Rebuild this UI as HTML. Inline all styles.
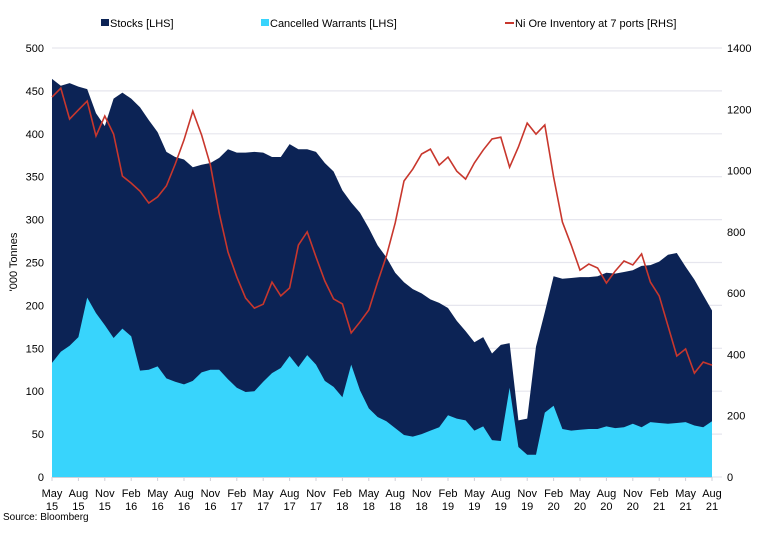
<!DOCTYPE html>
<html><head><meta charset="utf-8"><style>
body{margin:0;background:#fff;font-family:"Liberation Sans",Arial,sans-serif;}
svg text{font-family:"Liberation Sans",Arial,sans-serif;font-size:11px;fill:#000;}
</style></head><body>
<svg id="chart" width="770" height="531" xmlns="http://www.w3.org/2000/svg">
<g id="grid"></g>
<g id="areas"></g>
<g id="lines"></g>
<g id="axes"></g>
<g>
  <rect x="101" y="19" width="8" height="7" fill="#0c2355"/>
  <text x="110" y="27">Stocks [LHS]</text>
  <rect x="261" y="19" width="8" height="7" fill="#38d4fc"/>
  <text x="270" y="27">Cancelled Warrants [LHS]</text>
  <line x1="505" y1="23" x2="514" y2="23" stroke="#c8372d" stroke-width="2"/>
  <text x="515" y="27">Ni Ore Inventory at 7 ports [RHS]</text>
</g>
<text transform="translate(17,262) rotate(-90)" text-anchor="middle">'000 Tonnes</text>
<text x="3" y="520" style="font-size:10px">Source: Bloomberg</text>
</svg>
<script>
const stocks=[464,456,459,455,452,424,409,441,448,441,431,416,402,379,373,370,361,364,366,372,382,378,378,379,378,373,373,388,382,382,379,366,356,334,320,308,290,270,256,238,227,219,214,207,203,197,182,170,157,163,144,154,156,66,68,152,192,234,231,232,233,233,234,238,237,239,241,246,247,251,259,261,245,230,212,194];
const warrants=[133,146,153,163,209,191,177,162,173,164,124,125,129,115,111,108,112,122,125,125,114,104,99,100,111,121,127,141,128,142,131,112,105,93,131,101,80,70,65,57,49,47,50,54,58,72,68,66,54,59,43,42,104,35,26,26,75,83,56,54,55,56,56,59,57,58,62,58,64,63,62,63,64,60,58,65];
const niOre=[1240,1269,1168,1198,1227,1113,1178,1119,982,959,933,894,914,950,1021,1100,1194,1116,1018,861,734,653,584,551,564,636,591,617,757,800,718,640,581,565,470,506,545,636,721,829,966,1005,1054,1070,1018,1044,998,972,1025,1067,1103,1109,1011,1077,1155,1119,1149,979,832,757,675,695,682,633,672,705,692,728,636,591,493,395,418,339,375,365];
const xLabels=[["May","15"],["Aug","15"],["Nov","15"],["Feb","16"],["May","16"],["Aug","16"],["Nov","16"],["Feb","17"],["May","17"],["Aug","17"],["Nov","17"],["Feb","18"],["May","18"],["Aug","18"],["Nov","18"],["Feb","19"],["May","19"],["Aug","19"],["Nov","19"],["Feb","20"],["May","20"],["Aug","20"],["Nov","20"],["Feb","21"],["May","21"],["Aug","21"]];
const leftTicks=[0,50,100,150,200,250,300,350,400,450,500];
const rightTicks=[0,200,400,600,800,1000,1200,1400];

const NS="http://www.w3.org/2000/svg";
const X0=52,X1=712,Y0=477,Y1=48;
const x=i=>X0+(X1-X0)*i/(stocks.length-1);
const yL=v=>Y0-(Y0-Y1)*v/500;
const yR=v=>Y0-(Y0-Y1)*v/1400;
function mk(tag,attrs,parent){const e=document.createElementNS(NS,tag);for(const k in attrs)e.setAttribute(k,attrs[k]);parent.appendChild(e);return e;}
const grid=document.getElementById('grid'),areas=document.getElementById('areas'),lines=document.getElementById('lines'),axes=document.getElementById('axes');
leftTicks.forEach(t=>{
  const g=mk('line',{x1:X0,x2:722,y1:yL(t),y2:yL(t),stroke:'#e6e6ee','stroke-width':1.2},grid);
  
  
  const tx=mk('text',{x:44,y:yL(t)+4,'text-anchor':'end'},axes);tx.textContent=t;
  
  
});
rightTicks.forEach(t=>{
  const tx=mk('text',{x:727,y:yR(t)+4},axes);tx.textContent=t;
  
  
});
function areaPath(arr){let d=`M${x(0)},${Y0}`;arr.forEach((v,i)=>d+=` L${x(i)},${yL(v)}`);return d+` L${x(arr.length-1)},${Y0} Z`;}
const a1=mk('path',{d:areaPath(stocks),fill:'#0c2355'},areas);


const a2=mk('path',{d:areaPath(warrants),fill:'#38d4fc'},areas);


const l=mk('polyline',{points:niOre.map((v,i)=>x(i)+','+yR(v)).join(' '),fill:'none',stroke:'#c8372d','stroke-width':1.6},lines);


const ax=mk('line',{x1:X0,x2:X1,y1:Y0+0.5,y2:Y0+0.5,stroke:'#d0d0d8'},axes);


xLabels.forEach((lb,k)=>{
  const xi=x(k*3);
  const tk=mk('line',{x1:xi,x2:xi,y1:Y0,y2:Y0+4,stroke:'#d0d0d8'},axes);
  
  
  const t=mk('text',{x:xi,y:497,'text-anchor':'middle'},axes);
  
  
  const s1=mk('tspan',{x:xi},t);s1.textContent=lb[0];
  const s2=mk('tspan',{x:xi,dy:13},t);s2.textContent=lb[1];
});
</script>
</body></html>
